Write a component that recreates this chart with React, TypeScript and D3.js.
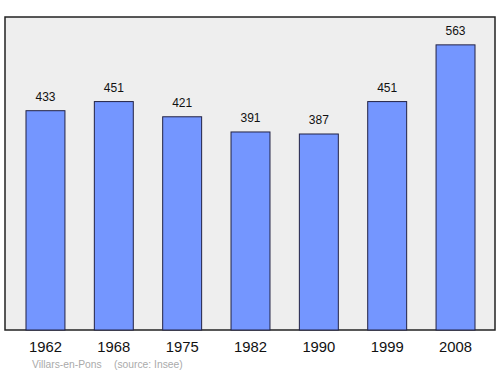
import React from "react";
import * as d3 from "d3";

const years = ["1962", "1968", "1975", "1982", "1990", "1999", "2008"];
const population = [433, 451, 421, 391, 387, 451, 563];
const placeName = "Villars-en-Pons";
const sourceText = "(source: Insee)";

export default function App() {
  const W = 500, H = 374;
  const frame = { x0: 5, y0: 17, x1: 495, y1: 330 };
  const x = d3.scaleBand<string>().domain(years).range([11.3, 489.7]).paddingInner(0.43).paddingOuter(0.215);
  const y = d3.scaleLinear().domain([0, 618]).range([frame.y1, frame.y0]);
  return (
    <svg width={W} height={H} style={{ position: "absolute", left: 0, top: 0 }} fontFamily="'Liberation Sans', Arial, sans-serif">
      <rect x={frame.x0} y={frame.y0} width={frame.x1 - frame.x0} height={frame.y1 - frame.y0} fill="#eeeeee" stroke="#222" strokeWidth={1.5} />
      {years.map((yr, i) => {
        const v = population[i];
        const bx = x(yr)!;
        const bw = x.bandwidth();
        return (
          <g key={yr}>
            <rect x={bx} y={y(v)} width={bw} height={frame.y1 - y(v)} fill="#7496ff" stroke="#222244" strokeWidth={1} />
            <text x={bx + bw / 2} y={y(v) - 10} textAnchor="middle" fontSize={12} fill="#111">{v}</text>
            <text x={bx + bw / 2} y={352} textAnchor="middle" fontSize={14.8} fill="#111">{yr}</text>
          </g>
        );
      })}
      <text x={32} y={368} fontSize={10.3} fill="#aaaaaa">{placeName}</text>
      <text x={114} y={368} fontSize={10.3} fill="#aaaaaa">{sourceText}</text>
    </svg>
  );
}
